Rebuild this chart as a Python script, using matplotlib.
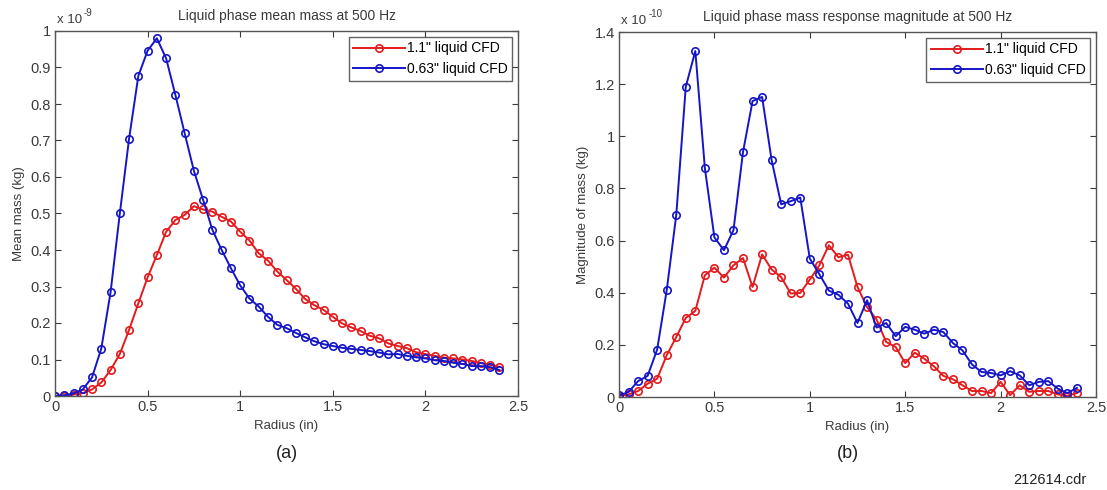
import matplotlib
matplotlib.use("Agg")
import matplotlib.pyplot as plt

plt.rcParams['font.family'] = ['Liberation Sans', 'DejaVu Sans']

radius = [0.00, 0.05, 0.10, 0.15, 0.20, 0.25, 0.30, 0.35, 0.40, 0.45,
          0.50, 0.55, 0.60, 0.65, 0.70, 0.75, 0.80, 0.85, 0.90, 0.95,
          1.00, 1.05, 1.10, 1.15, 1.20, 1.25, 1.30, 1.35, 1.40, 1.45,
          1.50, 1.55, 1.60, 1.65, 1.70, 1.75, 1.80, 1.85, 1.90, 1.95,
          2.00, 2.05, 2.10, 2.15, 2.20, 2.25, 2.30, 2.35, 2.40]

# mean mass, units of 1e-9 kg
mean_11 = [0.000, 0.001, 0.004, 0.008, 0.018, 0.037, 0.071, 0.115, 0.181, 0.254,
           0.325, 0.386, 0.450, 0.482, 0.496, 0.520, 0.511, 0.505, 0.491, 0.478,
           0.450, 0.426, 0.391, 0.371, 0.341, 0.318, 0.294, 0.266, 0.249, 0.236,
           0.217, 0.199, 0.188, 0.178, 0.165, 0.158, 0.144, 0.137, 0.131, 0.120,
           0.115, 0.110, 0.105, 0.103, 0.100, 0.096, 0.090, 0.085, 0.080]
mean_063 = [0.000, 0.002, 0.007, 0.018, 0.051, 0.130, 0.284, 0.500, 0.705, 0.877,
            0.946, 0.980, 0.925, 0.825, 0.720, 0.617, 0.537, 0.455, 0.400, 0.350,
            0.303, 0.267, 0.245, 0.217, 0.195, 0.186, 0.173, 0.161, 0.150, 0.142,
            0.137, 0.132, 0.129, 0.126, 0.123, 0.119, 0.114, 0.115, 0.110, 0.106,
            0.103, 0.098, 0.096, 0.091, 0.088, 0.082, 0.082, 0.079, 0.071]

# response magnitude, units of 1e-10 kg
mag_11 = [0.004, 0.010, 0.023, 0.051, 0.070, 0.160, 0.230, 0.303, 0.330, 0.467,
          0.496, 0.458, 0.505, 0.533, 0.422, 0.547, 0.489, 0.460, 0.397, 0.399,
          0.450, 0.505, 0.582, 0.536, 0.546, 0.422, 0.345, 0.297, 0.211, 0.192,
          0.130, 0.170, 0.147, 0.118, 0.081, 0.068, 0.045, 0.023, 0.023, 0.015,
          0.058, 0.007, 0.045, 0.020, 0.023, 0.023, 0.010, 0.005, 0.015]
mag_063 = [0.006, 0.019, 0.061, 0.081, 0.182, 0.409, 0.697, 1.190, 1.327, 0.878,
           0.612, 0.563, 0.640, 0.940, 1.135, 1.151, 0.908, 0.739, 0.751, 0.765,
           0.531, 0.471, 0.408, 0.392, 0.358, 0.284, 0.371, 0.266, 0.284, 0.233,
           0.269, 0.258, 0.243, 0.258, 0.249, 0.207, 0.179, 0.125, 0.096, 0.092,
           0.083, 0.099, 0.083, 0.045, 0.058, 0.061, 0.032, 0.015, 0.035]

labels = ['1.1" liquid CFD', '0.63" liquid CFD']
RED = '#e41a1c'
BLUE = '#1515c8'
GRAY = '#3a3a3a'


def style_axes(ax, yticks, ylabels, ymax, exponent, ylabel, title):
    ax.set_xlim(0, 2.5)
    ax.set_ylim(0, ymax)
    ax.set_xticks([0, 0.5, 1, 1.5, 2, 2.5])
    ax.set_xticklabels(['0', '0.5', '1', '1.5', '2', '2.5'])
    ax.set_yticks(yticks)
    ax.set_yticklabels(ylabels)
    ax.tick_params(direction='in', top=True, right=True, length=4,
                   labelsize=10.5, colors=GRAY, pad=3)
    for s in ax.spines.values():
        s.set_color('#555555')
        s.set_linewidth(1.0)
    ax.set_xlabel('Radius (in)', fontsize=9.5, color=GRAY, labelpad=4)
    ax.set_ylabel(ylabel, fontsize=9.5, color=GRAY, labelpad=4)
    ax.set_title(title, fontsize=10, color=GRAY, pad=8)
    # MATLAB-style exponent over the y axis
    ax.text(0.005, 1.015, 'x 10', transform=ax.transAxes,
            fontsize=9.5, color=GRAY, ha='left', va='bottom')
    ax.text(0.062, 1.035, exponent, transform=ax.transAxes,
            fontsize=7, color=GRAY, ha='left', va='bottom')
    ax.legend(labels, loc='upper right', fontsize=10, frameon=True,
              fancybox=False, edgecolor=GRAY, borderaxespad=0.4,
              handlelength=3.7, handletextpad=0.15, borderpad=0.35,
              labelspacing=0.45, numpoints=1)


def draw(ax, y_red, y_blue):
    kw = dict(marker='o', markersize=5.3, markerfacecolor='none',
              markeredgewidth=1.2, linewidth=1.4)
    ax.plot(radius, y_red, color=RED, **kw)
    ax.plot(radius, y_blue, color=BLUE, **kw)


fig = plt.figure(figsize=(11.07, 4.9), dpi=100)

ax1 = fig.add_axes([55 / 1107, 94 / 490, 463 / 1107, 365 / 490])
draw(ax1, mean_11, mean_063)
style_axes(ax1, [i / 10 for i in range(11)],
           ['0', '0.1', '0.2', '0.3', '0.4', '0.5', '0.6', '0.7', '0.8', '0.9', '1'],
           1.0, '-9', 'Mean mass (kg)', 'Liquid phase mean mass at 500 Hz')

ax2 = fig.add_axes([619 / 1107, 93 / 490, 477 / 1107, 365 / 490])
draw(ax2, mag_11, mag_063)
style_axes(ax2, [0, 0.2, 0.4, 0.6, 0.8, 1.0, 1.2, 1.4],
           ['0', '0.2', '0.4', '0.6', '0.8', '1', '1.2', '1.4'],
           1.4, '-10', 'Magnitude of mass (kg)',
           'Liquid phase mass response magnitude at 500 Hz')

fig.text(287 / 1107, 1 - 453 / 490, '(a)', fontsize=13, color='#222222',
         ha='center', va='center')
fig.text(848 / 1107, 1 - 453 / 490, '(b)', fontsize=13, color='#222222',
         ha='center', va='center')
fig.text(1086 / 1107, 1 - 480 / 490, '212614.cdr', fontsize=10.5,
         color='#222222', ha='right', va='center')

fig.savefig('out.png', dpi=100)
